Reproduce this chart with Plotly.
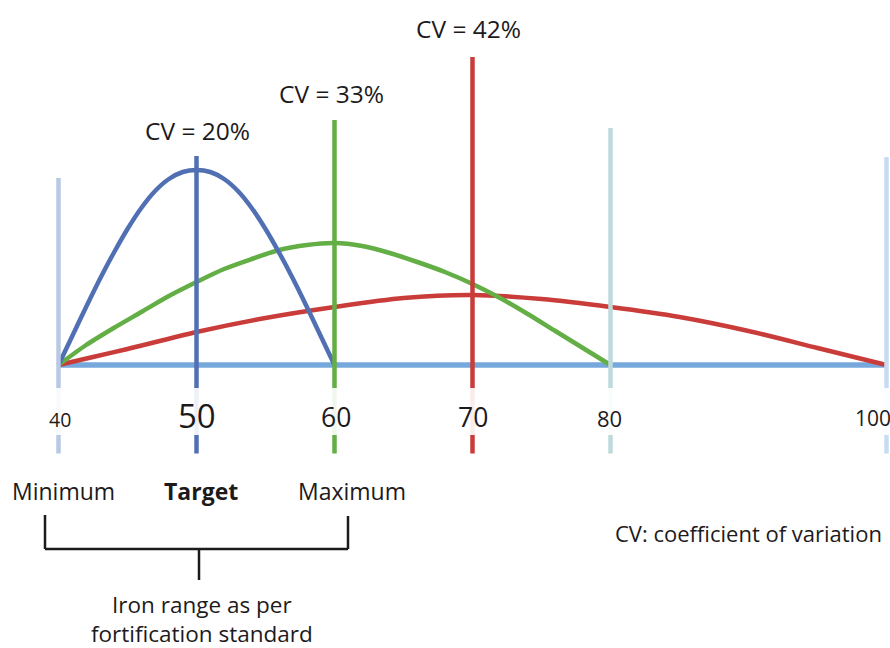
import plotly.graph_objects as go

# ---------------- data ----------------
tick_values = [40, 50, 60, 70, 80, 100]
tick_labels = ["40", "50", "60", "70", "80", "100"]

cv_positions = [50, 60, 70]
cv_labels = ["CV = 20%", "CV = 33%", "CV = 42%"]

range_labels = ["Minimum", "<b>Target</b>", "Maximum"]

blue_x = [40, 41, 42, 43, 44, 45, 46, 47, 48, 49, 50, 51, 52, 53, 54, 55, 56, 57, 58, 59, 60]
blue_y = [0, 29, 58, 86, 112, 136, 157, 174, 186, 193, 195, 193, 186, 174, 157, 136, 112, 86, 58, 29, 0]

green_x = [40, 42, 44, 46, 48, 50, 52, 54, 56, 58, 60, 62, 64, 66, 68, 70, 72, 74, 76, 78, 80]
green_y = [0, 20, 37, 53, 69, 83, 96, 106, 115, 120, 122, 119, 112, 103, 93, 81, 67, 51, 34, 17, 0]

red_x = [40, 42.5, 45, 50, 55, 60, 65, 70, 75, 80, 85, 90, 95, 100]
red_y = [0, 8, 16, 33, 47, 58, 67, 70, 66, 58, 48, 34, 17, 0]

# ---------------- styles ----------------
FONT = "Open Sans"
TXT = "#1d1a1b"
BLUE = "#5170b3"
GREEN = "#63ae45"
RED = "#c93c3a"
BASE = "#76a8dc"
W = 890.0

line_colors = ["#b9c8e3", BLUE, GREEN, RED, "#bfdadb", "#c6dcf2"]
line_tops = [187, 209, 245, 308, 237, 208]
line_bottom = -88.5
tick_sizes = [19.5, 33, 26.5, 26.5, 22, 21]
tick_y = [-54, -50, -52, -51.5, -53, -53]
tick_xshift = [1, 0, 1, 0, -1, -14]

cv_y = [235, 272, 336.5]
cv_xshift = [0.5, -3, -4.5]

range_px = [63, 201, 352]

fig = go.Figure()

# baseline
fig.add_trace(go.Scatter(x=[tick_values[0], tick_values[-1]], y=[0, 0], mode="lines",
                         line=dict(color=BASE, width=5.5), hoverinfo="skip"))

for xs, ys, c in [(red_x, red_y, RED), (green_x, green_y, GREEN), (blue_x, blue_y, BLUE)]:
    fig.add_trace(go.Scatter(x=xs, y=ys, mode="lines",
                             line=dict(color=c, width=4.5, shape="spline", smoothing=0.8),
                             hoverinfo="skip"))

shapes = []
for v, c, top in zip(tick_values, line_colors, line_tops):
    shapes.append(dict(type="line", xref="x", yref="y", x0=v, x1=v, y0=line_bottom, y1=top,
                       line=dict(color=c, width=4.5), layer="above"))
# translucent band behind tick labels
shapes.append(dict(type="rect", xref="paper", yref="y", x0=0, x1=1, y0=-23, y1=-70,
                   fillcolor="rgba(255,255,255,0.9)", line=dict(width=0), layer="above"))
# bracket
bk = dict(color=TXT, width=2.5)
for x0, x1, y0, y1 in [(45, 45, -150, -184), (348, 348, -151, -184),
                       (45, 348, -184, -184), (199, 199, -184, -215)]:
    shapes.append(dict(type="line", xref="paper", yref="y", x0=x0 / W, x1=x1 / W,
                       y0=y0, y1=y1, line=bk, layer="above"))

ann = []
for v, lab, s, yy, xs in zip(tick_values, tick_labels, tick_sizes, tick_y, tick_xshift):
    ann.append(dict(x=v, y=yy, xref="x", yref="y", text=lab, showarrow=False,
                    xshift=xs, yanchor="middle", xanchor="center",
                    font=dict(family=FONT, size=s, color=TXT)))
for v, lab, yy, xs in zip(cv_positions, cv_labels, cv_y, cv_xshift):
    ann.append(dict(x=v, y=yy, xref="x", yref="y", text=lab, showarrow=False,
                    xshift=xs, yanchor="middle", xanchor="center",
                    font=dict(family=FONT, size=24.5, color=TXT)))
for px, lab in zip(range_px, range_labels):
    ann.append(dict(x=px / W, y=-126, xref="paper", yref="y", text=lab, showarrow=False,
                    yanchor="middle", xanchor="center",
                    font=dict(family=FONT, size=23, color=TXT,
                              weight=800 if "Target" in lab else 400)))
ann.append(dict(x=202 / W, y=-254, xref="paper", yref="y",
                text="Iron range as per<br>fortification standard", showarrow=False,
                yanchor="middle", xanchor="center",
                font=dict(family=FONT, size=22.5, color=TXT)))
ann.append(dict(x=748.5 / W, y=-167.5, xref="paper", yref="y",
                text="CV: coefficient of variation", showarrow=False,
                yanchor="middle", xanchor="center",
                font=dict(family=FONT, size=22, color=TXT)))

fig.update_layout(
    width=890, height=648, margin=dict(l=0, r=0, t=0, b=0),
    paper_bgcolor="white", plot_bgcolor="white", showlegend=False,
    xaxis=dict(range=[35.7609, 100.2536], visible=False, fixedrange=True),
    yaxis=dict(range=[-283, 365], visible=False, fixedrange=True),
    shapes=shapes, annotations=ann,
)

fig.write_html(
    "out.html",
    config={"displayModeBar": False},
    post_script="document.body.style.margin='0';document.body.style.overflow='hidden';",
)
